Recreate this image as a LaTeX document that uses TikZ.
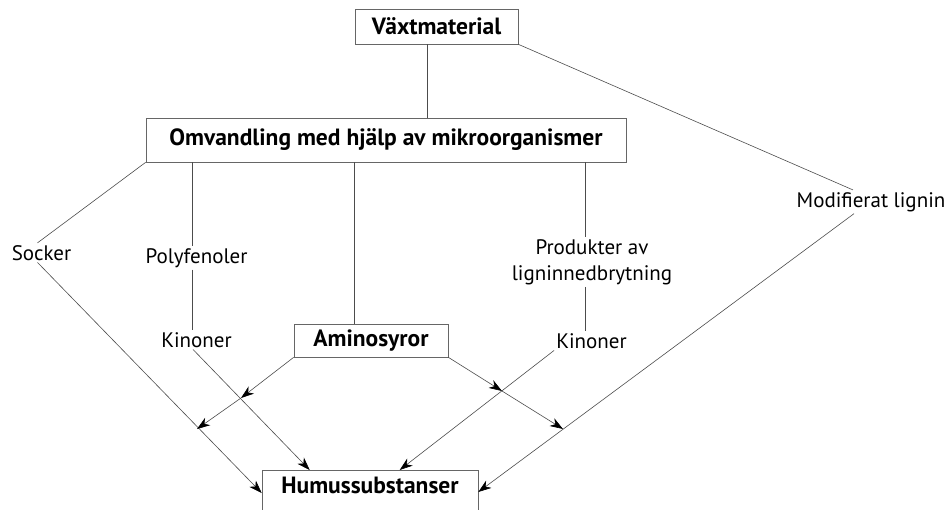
\documentclass[tikz,border=0pt]{standalone}
\usepackage{fontspec}
\setmainfont{PT Sans}
\usetikzlibrary{arrows.meta}

\begin{document}
\begin{tikzpicture}[x=1pt,y=-1pt,
    box/.style={draw=black!60, line width=0.6pt, inner sep=0pt,
      font=\fontsize{23.5}{26}\selectfont\bfseries},
    lbl/.style={inner sep=2pt, align=center,
      font=\fontsize{21}{26}\selectfont},
    link/.style={draw=black!70, line width=0.6pt},
    flow/.style={link, -{Stealth[length=13pt, width=9pt, inset=4pt, black]}}]

    \useasboundingbox (0,0) rectangle (952,509);

    % Boxes
    \node[box, minimum width=163pt, minimum height=35pt] (vaxt) at (436.5,26.5) {Växtmaterial};
    \node[box, minimum width=480pt, minimum height=44pt] (omv) at (386,140) {Omvandling med hjälp av mikroorganismer};
    \node[box, minimum width=154pt, minimum height=33pt] (amino) at (371,340.5) {Aminosyror};
    \node[box, anchor=north, minimum width=216pt, inner ysep=7pt,
      text height=16pt, text depth=30pt] (humus) at (370,470) {Humussubstanser};

    % Labels
    \node[lbl, anchor=base] (socker) at (41.5,260) {Socker};
    \node[lbl, anchor=base] (poly) at (196.5,263) {Polyfenoler};
    \node[lbl, anchor=base] (kinL) at (196.5,347) {Kinoner};
    \node[lbl] (prod) at (592,262) {Produkter av\\ligninnedbrytning};
    \node[lbl, anchor=base] (kinR) at (591.5,348) {Kinoner};
    \node[lbl, anchor=base] (modlig) at (871,207) {Modifierat lignin};

    % Crossing points of the amino acid paths
    \coordinate (kl) at (241,398);
    \coordinate (sl) at (197,429);
    \coordinate (kr) at (502,391);
    \coordinate (sr) at (563,429);

    % Upper links
    \draw[link] ([xshift=-9.5pt]vaxt.south) -- ([xshift=-9.5pt]vaxt.south |- omv.north);
    \draw[link] (vaxt.south east) -- ([xshift=-18pt]modlig.north);
    \draw[link] (omv.south west) -- ([xshift=-4pt]socker.north);
    \draw[link] ([xshift=-4.5pt]poly.north |- omv.south) -- ([xshift=-4.5pt]poly.north);
    \draw[link] ([xshift=-4.5pt]poly.south) -- ([xshift=-4.5pt]kinL.north);
    \draw[link] ([xshift=-17pt]amino.north |- omv.south) -- ([xshift=-17pt]amino.north);
    \draw[link] ([xshift=-7pt]prod.north |- omv.south) -- ([xshift=-7pt]prod.north);
    \draw[link] ([xshift=-7pt]prod.south) -- ([xshift=-7pt]prod.south |- kinR.north);

    % Arrows into Humussubstanser
    \draw[flow] ([xshift=-4pt]socker.south) -- ([yshift=-23pt]humus.north west);
    \draw[flow] ([xshift=-3.5pt]kinL.south) -- ([xshift=48pt]humus.north west);
    \draw[flow] (kinR.south west) -- ([xshift=138pt]humus.north west);
    \draw[flow] ([xshift=-17pt]modlig.south) -- ([yshift=-22pt]humus.north east);

    % Amino acid paths
    \draw[flow] (amino.south west) -- (kl);
    \draw[flow] (kl) -- (sl);
    \draw[flow] (amino.south east) -- (kr);
    \draw[flow] (kr) -- (sr);

\end{tikzpicture}
\end{document}
